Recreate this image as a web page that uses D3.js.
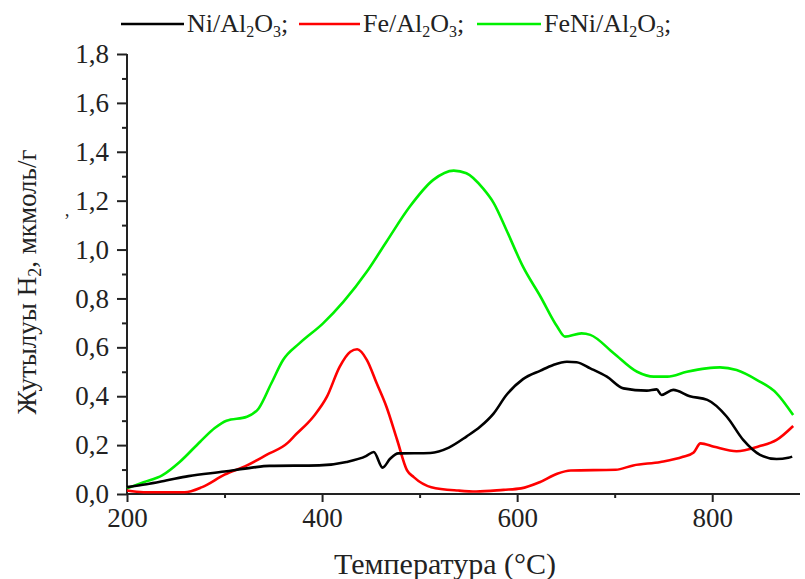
<!DOCTYPE html>
<html>
<head>
<meta charset="utf-8">
<script src="https://cdn.jsdelivr.net/npm/d3@7/dist/d3.min.js"></script>
<style>
  html, body { margin: 0; padding: 0; background: #fff; }
  svg { display: block; }
  text { font-family: "Liberation Serif", "Times New Roman", serif; fill: #222; }
</style>
</head>
<body>
<svg id="chart" width="805" height="579"></svg>
<script>
// H2 uptake (TPR) profiles, temperature in °C vs µmol/g
const tempNi = [200, 220, 240, 263, 300, 328, 346, 397, 425, 445, 453, 462, 470, 478, 511, 530, 548, 562, 576, 589, 606, 624, 637, 651, 661, 675, 692, 709, 733, 743, 748, 760, 777, 795, 815, 832, 849, 866, 878, 882];
const valNi  = [0.028, 0.040, 0.055, 0.073, 0.092, 0.108, 0.115, 0.117, 0.131, 0.155, 0.172, 0.108, 0.145, 0.166, 0.168, 0.190, 0.235, 0.275, 0.330, 0.405, 0.470, 0.505, 0.528, 0.541, 0.539, 0.514, 0.480, 0.432, 0.423, 0.428, 0.405, 0.426, 0.400, 0.385, 0.316, 0.220, 0.160, 0.143, 0.148, 0.153];

const tempFe = [200, 217, 259, 277, 300, 323, 343, 365, 371, 391, 405, 418, 429, 436, 446, 456, 466, 477, 487, 494, 512, 540, 558, 586, 604, 623, 641, 655, 701, 719, 747, 770, 781, 788, 802, 825, 848, 866, 883];
const valFe  = [0.014, 0.007, 0.007, 0.028, 0.079, 0.117, 0.160, 0.210, 0.235, 0.316, 0.398, 0.520, 0.582, 0.592, 0.548, 0.453, 0.357, 0.221, 0.098, 0.069, 0.028, 0.014, 0.010, 0.017, 0.023, 0.048, 0.083, 0.096, 0.099, 0.117, 0.131, 0.152, 0.170, 0.207, 0.193, 0.175, 0.195, 0.221, 0.278];

const tempFeNi = [200, 217, 236, 254, 275, 290, 302, 323, 335, 348, 360, 377, 401, 422, 446, 466, 490, 514, 535, 548, 565, 576, 589, 606, 624, 641, 649, 666, 675, 699, 723, 740, 754, 774, 794, 808, 825, 846, 866, 883];
const valFeNi  = [0.023, 0.048, 0.076, 0.131, 0.214, 0.270, 0.300, 0.316, 0.350, 0.453, 0.548, 0.617, 0.698, 0.787, 0.910, 1.032, 1.176, 1.285, 1.323, 1.312, 1.250, 1.190, 1.080, 0.930, 0.807, 0.685, 0.644, 0.657, 0.651, 0.576, 0.500, 0.480, 0.480, 0.500, 0.514, 0.518, 0.507, 0.466, 0.412, 0.323];

const seriesNames  = ["Ni/Al", "Fe/Al", "FeNi/Al"];
const seriesColors = ["#000000", "#ff0000", "#00f000"];

const xTicks = [200, 400, 600, 800];
const xMinorTicks = [300, 500, 700];
const yTicks = [0, 0.2, 0.4, 0.6, 0.8, 1.0, 1.2, 1.4, 1.6, 1.8];
const yMinorTicks = [0.1, 0.3, 0.5, 0.7, 0.9, 1.1, 1.3, 1.5, 1.7];

const xLabel = "Температура  (°C)";

const svg = d3.select("#chart");

const x = d3.scaleLinear().domain([200, 890]).range([127, 800]);
const y = d3.scaleLinear().domain([0, 1.8]).range([494, 54]);

const fmt = d => d3.format(".1f")(d).replace(".", ",");

// axes
const axisColor = "#222";
const xAxisG = svg.append("g").attr("transform", `translate(0,${y(0)})`)
  .call(d3.axisBottom(x).tickValues(xTicks).tickSize(8).tickPadding(6).tickFormat(d3.format("d")));
xAxisG.append("g").call(d3.axisBottom(x).tickValues(xMinorTicks).tickSize(4).tickFormat(""));
const yAxisG = svg.append("g").attr("transform", `translate(${x(200)},0)`)
  .call(d3.axisLeft(y).tickValues(yTicks).tickSize(10).tickPadding(8).tickFormat(fmt));
yAxisG.append("g").call(d3.axisLeft(y).tickValues(yMinorTicks).tickSize(5).tickFormat(""));

svg.selectAll(".domain").attr("stroke", axisColor).attr("stroke-width", 2);
svg.selectAll(".tick line").attr("stroke", axisColor).attr("stroke-width", 2);
svg.selectAll(".tick text").attr("font-family", "Liberation Serif, serif").attr("font-size", 27).attr("fill", "#333");
yAxisG.selectAll(".domain").attr("d", `M0,${y(1.8)}V${y(0)}`);
xAxisG.selectAll(".domain").attr("d", `M${x(200)},0H${x(890)}`);

// curves
const line = d3.line().x(d => x(d[0])).y(d => y(d[1])).curve(d3.curveMonotoneX);
const series = [
  d3.zip(tempNi, valNi),
  d3.zip(tempFe, valFe),
  d3.zip(tempFeNi, valFeNi)
];
// draw green first, then red, black on top
[2, 1, 0].forEach(i => {
  svg.append("path").datum(series[i])
    .attr("fill", "none").attr("stroke", seriesColors[i])
    .attr("stroke-width", 2.6).attr("stroke-linejoin", "round")
    .attr("d", line);
});

// axis titles
svg.append("text").attr("x", 445).attr("y", 574).attr("text-anchor", "middle")
  .attr("font-size", 30).attr("fill", "#333").text(xLabel);

const yt = svg.append("text").attr("transform", "translate(36,282) rotate(-90)")
  .attr("text-anchor", "middle").attr("font-size", 27).attr("fill", "#333");
yt.append("tspan").text("Жутылуы H");
yt.append("tspan").attr("font-size", 18).attr("dy", 5).text("2");
yt.append("tspan").attr("dy", -5).text(", мкмоль/г");
svg.append("text").attr("x", 64).attr("y", 216).attr("font-size", 18).attr("fill", "#555").text("‚");

// legend
const legendX = [121, 299, 477];
const legendLen = [63, 61, 64];
seriesNames.forEach((name, i) => {
  const g = svg.append("g");
  g.append("line").attr("x1", legendX[i]).attr("x2", legendX[i] + legendLen[i])
    .attr("y1", 24).attr("y2", 24).attr("stroke", seriesColors[i]).attr("stroke-width", 2.6);
  const t = g.append("text").attr("x", legendX[i] + legendLen[i] + 3).attr("y", 32)
    .attr("font-size", 26).attr("fill", "#333");
  t.append("tspan").text(name);
  t.append("tspan").attr("font-size", 16).attr("dy", 5).text("2");
  t.append("tspan").attr("dy", -5).text("O");
  t.append("tspan").attr("font-size", 16).attr("dy", 5).text("3");
  t.append("tspan").attr("dy", -5).text(";");
});
</script>
</body>
</html>
